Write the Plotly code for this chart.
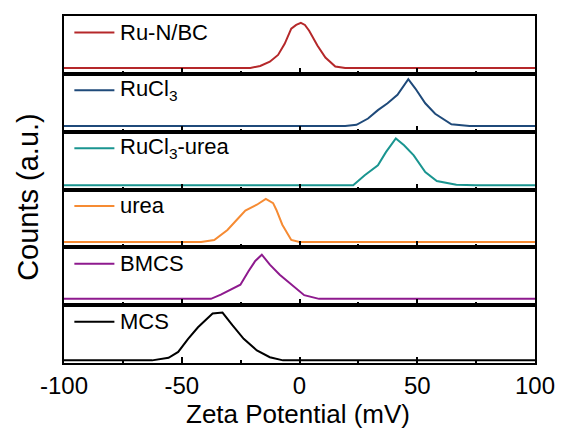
import plotly.graph_objects as go
from plotly.subplots import make_subplots

# Zeta potential distributions (x in mV, y in normalized counts incl. panel baseline)
names = ["Ru-N/BC", "RuCl<sub>3</sub>", "RuCl<sub>3</sub>-urea", "urea", "BMCS", "MCS"]
colors = ["#B5282A", "#1F4A7A", "#1A9590", "#F68B33", "#8E1A8E", "#000000"]

tick_vals = [-100, -50, 0, 50, 100]
tick_text = ["-100", "-50", "0", "50", "100"]
minor_vals = [-75, -25, 25, 75]

x_run = [-100, -20.9, -16.7, -12.6, -9.1, -6.3, -3.5, -1.4, 0.6, 2.3, 4.1, 7.6, 11, 15.2, 19.4, 100]
y_run = [0.11, 0.11, 0.15, 0.23, 0.36, 0.57, 0.86, 0.93, 0.97, 0.93, 0.82, 0.54, 0.31, 0.14, 0.11, 0.11]

x_rucl3 = [-100, 19.4, 24.2, 29.1, 33.3, 37.4, 41.6, 46.2, 49.2, 53.4, 57.6, 64.5, 72.2, 100]
y_rucl3 = [0.11, 0.11, 0.13, 0.25, 0.41, 0.54, 0.70, 1.00, 0.82, 0.54, 0.34, 0.14, 0.11, 0.11]

x_rucl3_urea = [-100, 22.8, 27.7, 33.3, 36.7, 40.9, 44.4, 48.5, 53.4, 58.3, 66.6, 74.9, 100]
y_rucl3_urea = [0.08, 0.08, 0.27, 0.46, 0.71, 0.97, 0.84, 0.65, 0.33, 0.16, 0.09, 0.08, 0.08]

x_urea = [-100, -41.8, -36.2, -30.6, -26.5, -23, -18.1, -14.3, -11.2, -9.8, -7.3, -3.5, 0, 100]
y_urea = [0.10, 0.10, 0.14, 0.33, 0.53, 0.70, 0.81, 0.92, 0.84, 0.71, 0.43, 0.14, 0.10, 0.10]

x_bmcs = [-100, -37.6, -33.4, -28.5, -25.1, -21.6, -18.8, -16, -12.6, -8.4, -3.5, 2, 8.3, 100]
y_bmcs = [0.12, 0.12, 0.20, 0.31, 0.39, 0.65, 0.84, 0.96, 0.77, 0.58, 0.39, 0.19, 0.12, 0.12]

x_mcs = [-100, -62.6, -55.6, -51.5, -47.3, -43.1, -36.9, -32.7, -28.5, -23.7, -18.1, -12.6, -7, 100]
y_mcs = [0.05, 0.05, 0.10, 0.21, 0.46, 0.68, 0.94, 0.96, 0.72, 0.46, 0.24, 0.11, 0.05, 0.05]

xs = [x_run, x_rucl3, x_rucl3_urea, x_urea, x_bmcs, x_mcs]
ys = [y_run, y_rucl3, y_rucl3_urea, y_urea, y_bmcs, y_mcs]

FONT = "Liberation Sans, Arial, sans-serif"

fig = make_subplots(rows=6, cols=1, shared_xaxes=True, vertical_spacing=0)

for i, (x, y, c) in enumerate(zip(xs, ys, colors)):
    fig.add_trace(
        go.Scatter(x=x, y=y, mode="lines", line=dict(color=c, width=2),
                   showlegend=False, hoverinfo="skip"),
        row=i + 1, col=1,
    )

for i in range(6):
    sfx = "" if i == 0 else str(i + 1)
    fig.update_layout({
        f"xaxis{sfx}": dict(
            range=[-100, 100], showgrid=False, zeroline=False,
            showline=True, linecolor="black", linewidth=2, mirror=True,
            ticks="inside", ticklen=6, tickwidth=1.5, tickcolor="black",
            tickmode="array", tickvals=tick_vals, ticktext=tick_text,
            minor=dict(ticks="inside", ticklen=3, tickwidth=1.5, tickcolor="black",
                       tickmode="array", tickvals=minor_vals, showgrid=False),
            showticklabels=(i == 5),
            tickfont=dict(family=FONT, size=24, color="black"),
        ),
        f"yaxis{sfx}": dict(
            range=[0, 1.1], showgrid=False, zeroline=False,
            showline=True, linecolor="black", linewidth=2, mirror=True,
            ticks="", showticklabels=False,
        ),
    })
    xd = f"x{sfx} domain"
    yd = f"y{sfx} domain"
    # in-panel key: short line sample plus the series name
    fig.add_shape(type="line", xref=xd, yref=yd, x0=0.022, x1=0.107, y0=0.715, y1=0.715,
                  line=dict(color=colors[i], width=2))
    fig.add_annotation(xref=xd, yref=yd, x=0.114, y=0.715, text=names[i],
                       showarrow=False, xanchor="left", yanchor="middle",
                       font=dict(family=FONT, size=22, color="black"))

fig.add_annotation(xref="paper", yref="paper", x=-0.077, y=0.478, text="Counts (a.u.)",
                   textangle=-90, showarrow=False, xanchor="center", yanchor="middle",
                   font=dict(family=FONT, size=29, color="black"))
fig.add_annotation(xref="paper", yref="paper", x=0.497, y=-0.148, text="Zeta Potential (mV)",
                   showarrow=False, xanchor="center", yanchor="middle",
                   font=dict(family=FONT, size=26, color="black"))

fig.update_layout(
    width=567, height=429,
    margin=dict(l=64, r=24, t=16, b=66),
    paper_bgcolor="white", plot_bgcolor="white",
    showlegend=False,
)

fig.write_html("out.html")
